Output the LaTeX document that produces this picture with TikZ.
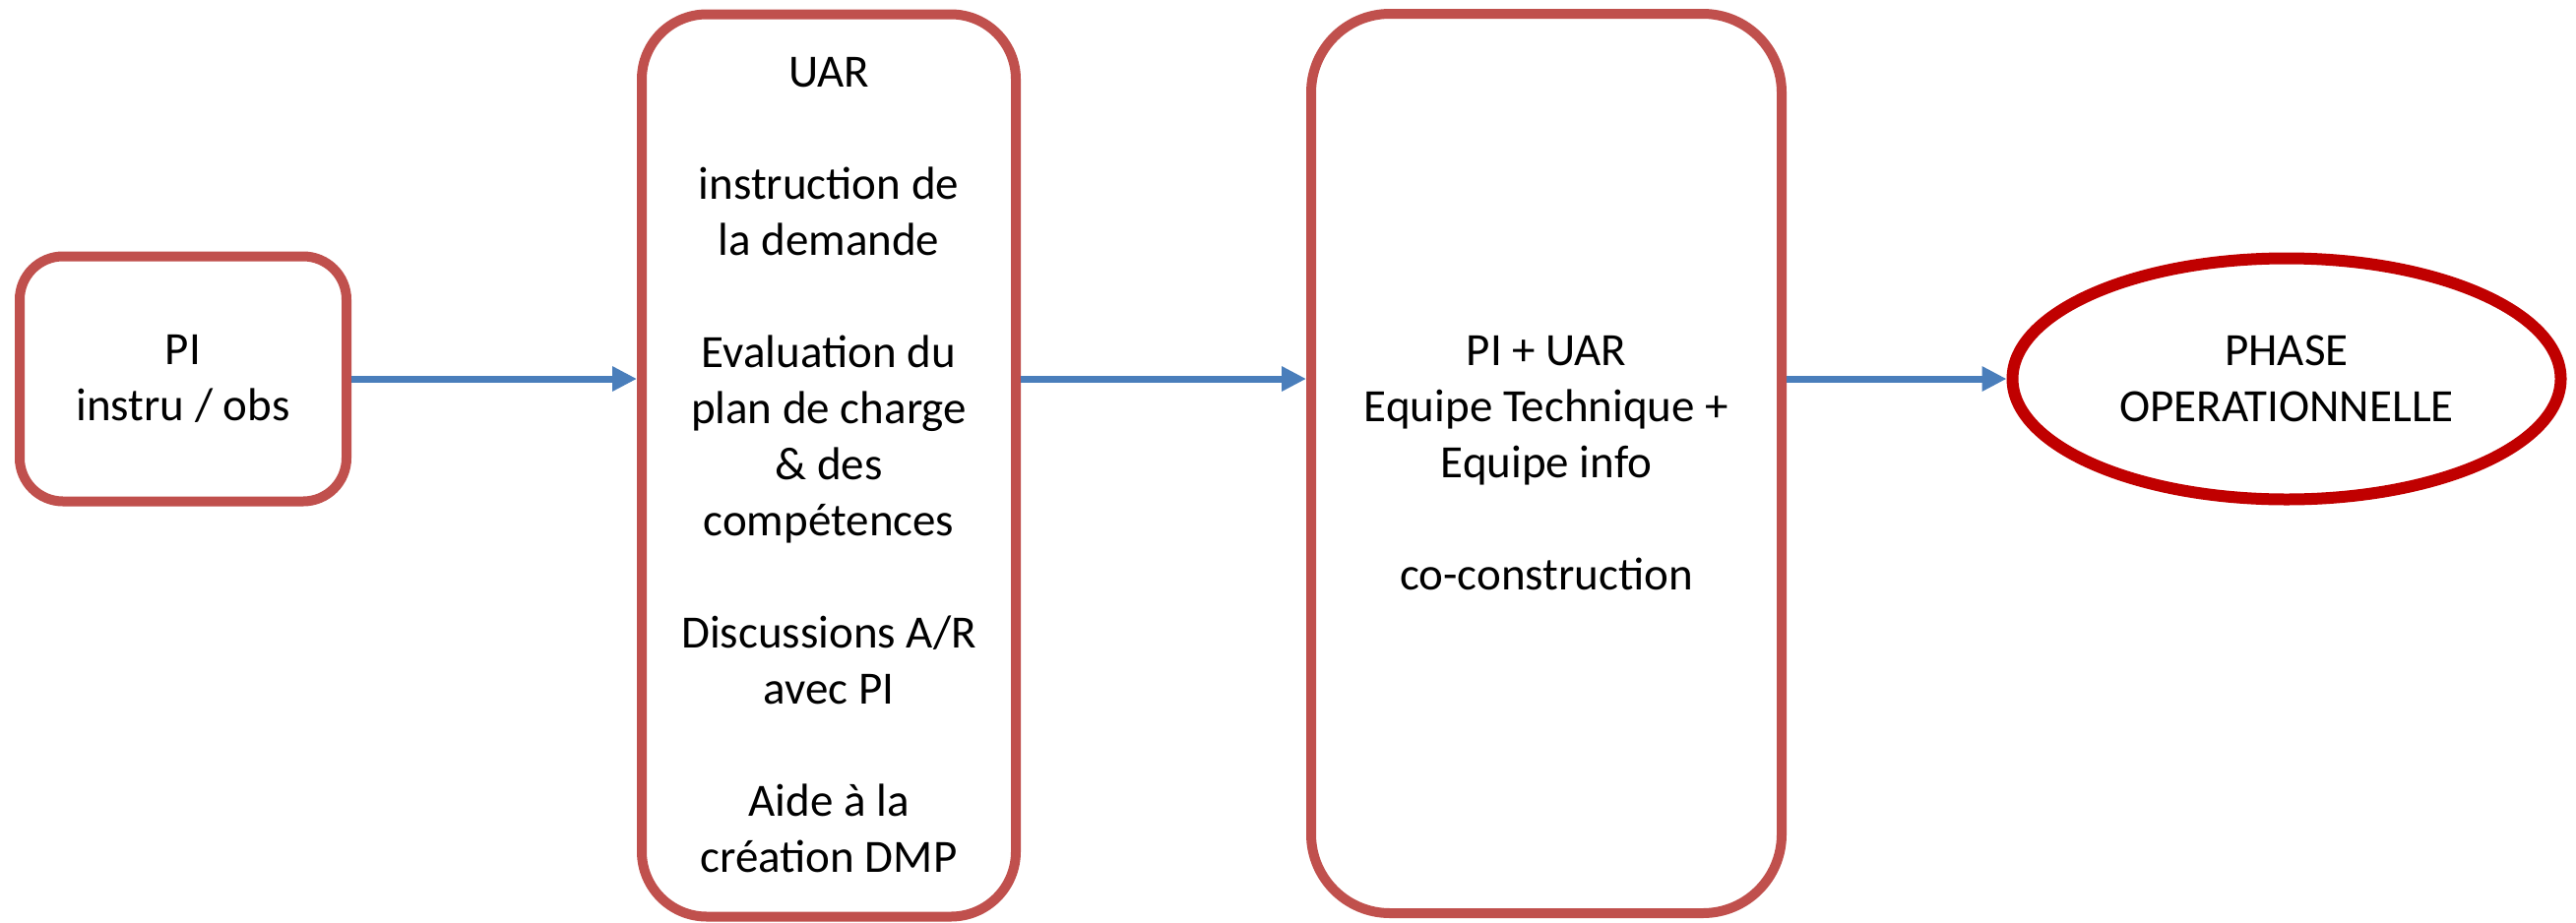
\documentclass[tikz,border=0pt]{standalone}
\usepackage{fontspec}
\setmainfont{Carlito}
\usetikzlibrary{shapes.geometric,arrows.meta}
\definecolor{boxred}{HTML}{C0504D}
\definecolor{ellred}{HTML}{C00000}
\definecolor{arrblue}{HTML}{4A7EBB}
\begin{document}
\begin{tikzpicture}[x=1pt,y=-1pt,
  boxstyle/.style={draw=boxred,line width=10pt,align=center,inner sep=0pt,
    font=\fontsize{47}{57}\selectfont},
  ellstyle/.style={ellipse,draw=ellred,line width=12pt,align=center,inner sep=0pt,
    font=\fontsize{47}{57}\selectfont},
  conn/.style={draw=arrblue,line width=7pt,-{Triangle[length=25pt,width=24pt]}}]
\useasboundingbox (0,0) rectangle (2617,937);
\node[boxstyle,minimum width=332pt,minimum height=249pt,rounded corners=44pt] (b1) at (186,385) {PI\\instru / obs};
\node[boxstyle,minimum width=380pt,minimum height=917pt,rounded corners=66pt] (b2) at (842,473)
  {UAR\\[57pt]instruction de\\la demande\\[57pt]Evaluation du\\plan de charge\\\& des\\comp\'etences\\[57pt]Discussions A/R\\avec PI\\[57pt]Aide \`a la\\cr\'eation DMP};
\node[boxstyle,minimum width=478pt,minimum height=914pt,rounded corners=80pt] (b3) at (1571,471)
  {PI + UAR\\Equipe Technique +\\Equipe info\\[57pt]co-construction};
\node[ellstyle,minimum width=557pt,minimum height=245pt] (e) at (2323,385) {PHASE\\OPERATIONNELLE};
\draw[conn] (b1.east) -- (b1.east -| b2.west);
\draw[conn] (b2.east |- b1.east) -- (b3.west |- b1.east);
\draw[conn] (b3.east |- e.west) -- (e.west);
\end{tikzpicture}
\end{document}
